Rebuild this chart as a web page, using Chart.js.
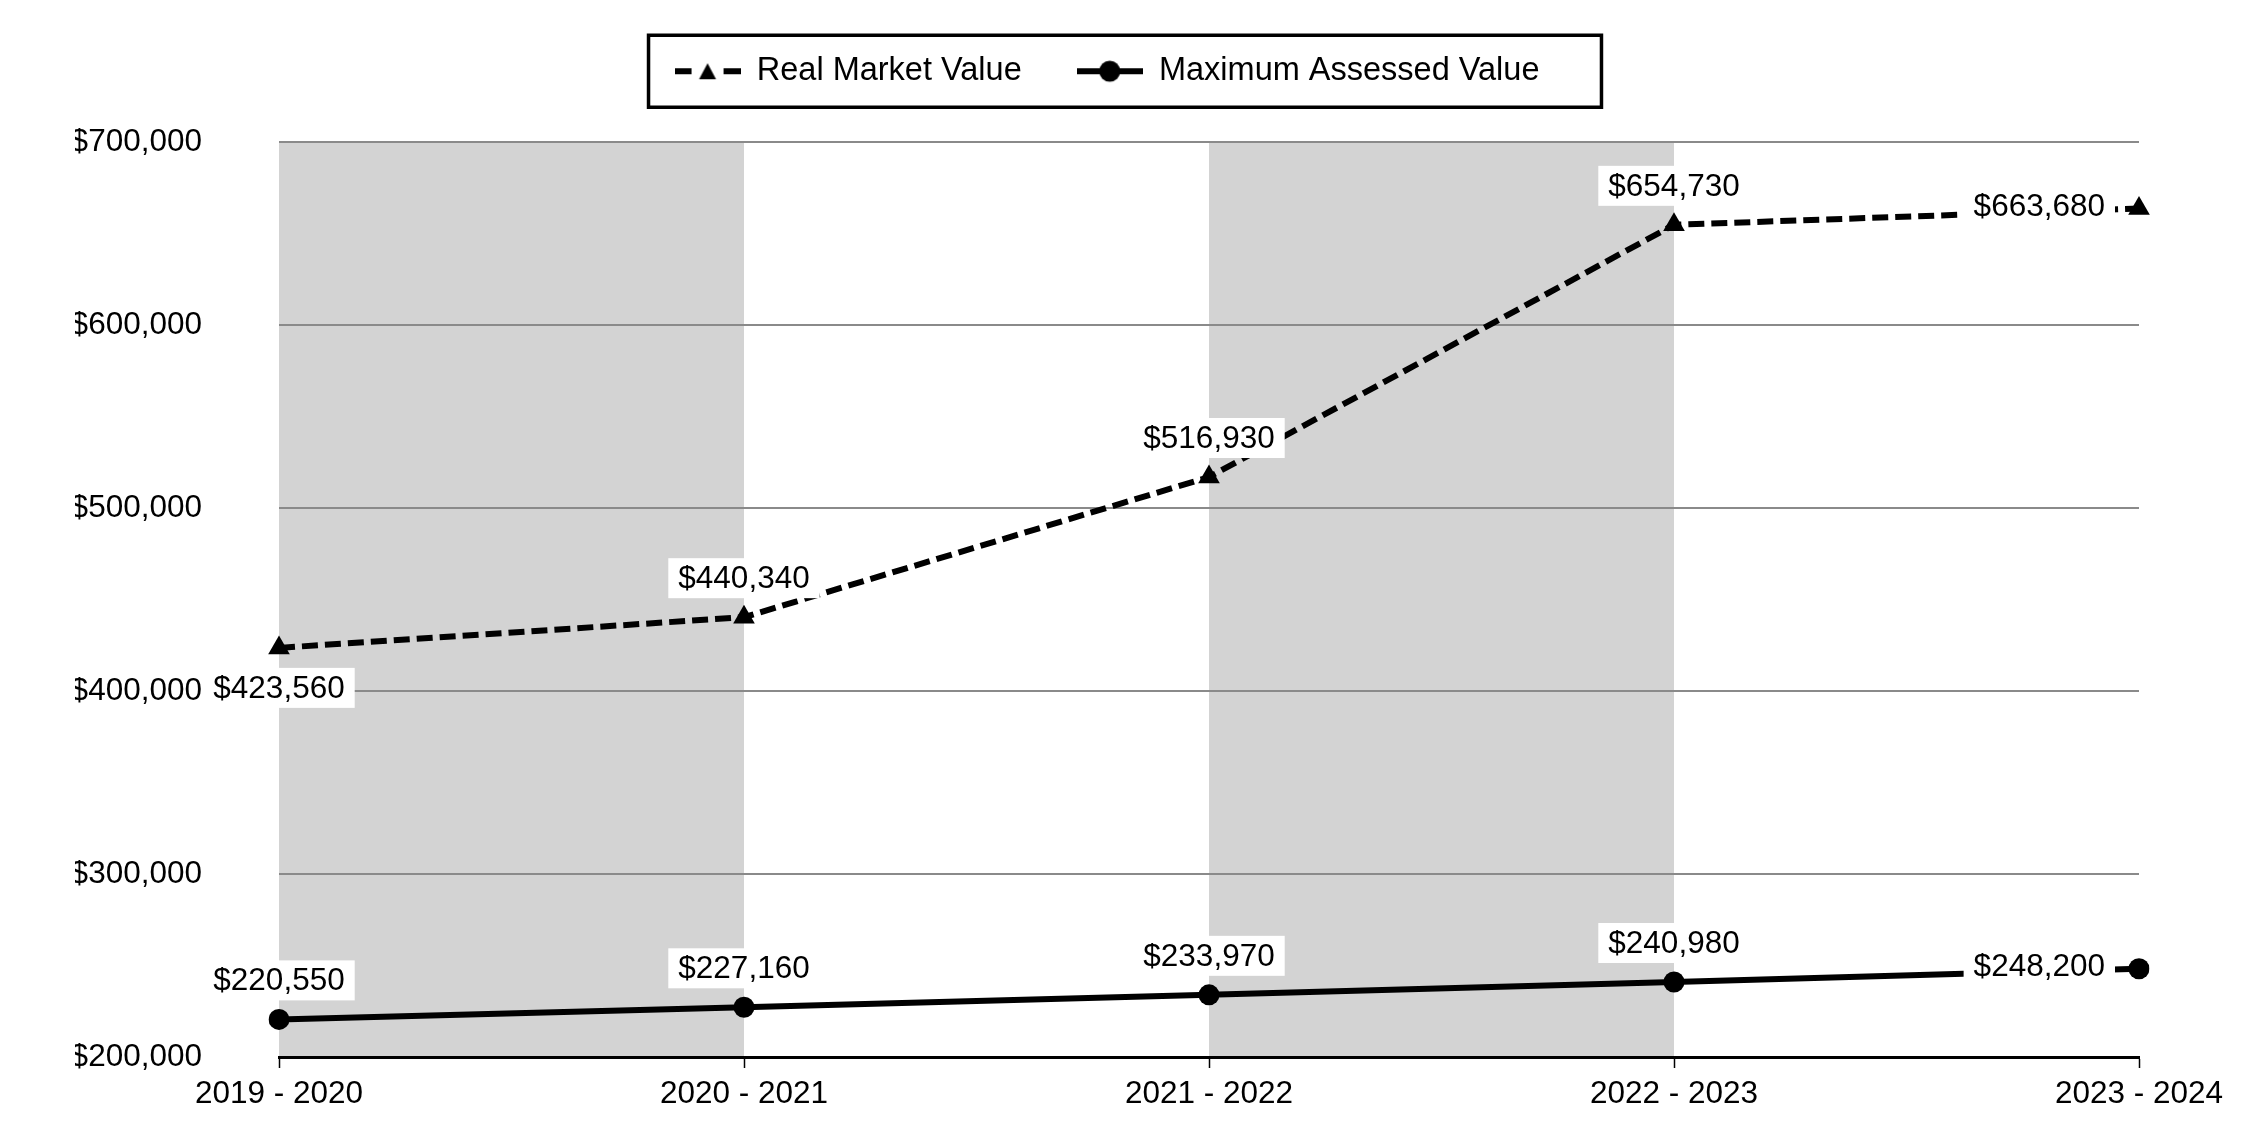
<!DOCTYPE html>
<html>
<head>
<meta charset="utf-8">
<title>Real Market Value vs Maximum Assessed Value</title>
<script src="https://cdn.jsdelivr.net/npm/chart.js@4.4.0/dist/chart.umd.min.js"></script>
<style>
  html, body { margin: 0; padding: 0; background: #fff; }
  canvas { display: block; }
</style>
</head>
<body>
<canvas id="valueChart" width="2250" height="1140"></canvas>
<script>
// Data
const years = ['2019 - 2020', '2020 - 2021', '2021 - 2022', '2022 - 2023', '2023 - 2024'];
const realMarketValue = [423560, 440340, 516930, 654730, 663680];
const maxAssessedValue = [220550, 227160, 233970, 240980, 248200];
const yTicks = [200000, 300000, 400000, 500000, 600000, 700000];
// pairs of category indexes with a grey band between them
const shadedSpans = [[0, 1], [2, 3]];

const FONT = '"Liberation Sans", Arial, sans-serif';
const money = v => '$' + v.toLocaleString('en-US');

Chart.defaults.font.family = FONT;
Chart.defaults.color = '#000';

// little line + marker pictures for the legend
function legendIcon(dashed, marker) {
    const c = document.createElement('canvas');
    c.width = 66;
    c.height = 34;
    const g = c.getContext('2d');
    g.fillStyle = '#000';
    if (dashed) {
        g.fillRect(0, 14, 17, 6);
        g.fillRect(49, 14, 17, 6);
    } else {
        g.fillRect(0, 14, 66, 6);
    }
    g.beginPath();
    if (marker === 'triangle') {
        g.moveTo(33, 9);
        g.lineTo(24.5, 25);
        g.lineTo(41.5, 25);
        g.closePath();
    } else {
        g.arc(33, 17, 10.5, 0, Math.PI * 2);
    }
    g.fill();
    return c;
}

const bandPlugin = {
    id: 'bands',
    beforeDraw(chart) {
        const {ctx, chartArea, scales} = chart;
        ctx.save();
        ctx.fillStyle = '#d3d3d3';
        shadedSpans.forEach(([a, b]) => {
            const x0 = scales.x.getPixelForValue(a);
            const x1 = scales.x.getPixelForValue(b);
            ctx.fillRect(x0, chartArea.top, x1 - x0, chartArea.bottom - chartArea.top);
        });
        ctx.restore();
    }
};

const valueLabels = {
    id: 'valueLabels',
    afterDatasetsDraw(chart) {
        const ctx = chart.ctx;
        ctx.save();
        ctx.font = '31.5px ' + FONT;
        ctx.textBaseline = 'middle';
        ctx.textAlign = 'center';
        chart.data.datasets.forEach((ds, di) => {
            chart.getDatasetMeta(di).data.forEach((pt, i) => {
                const text = money(ds.data[i]);
                const w = ctx.measureText(text).width;
                const side = ds.labelSides[i];
                let cx = pt.x, cy = pt.y;
                if (side === 'above') cy -= 39;
                else if (side === 'below') cy += 40;
                else { cx -= 34 + w / 2; cy -= 2; }
                ctx.fillStyle = '#fff';
                ctx.fillRect(cx - w / 2 - 10, cy - 20, w + 20, 40);
                ctx.fillStyle = '#000';
                ctx.fillText(text, cx, cy + 1);
            });
        });
        ctx.restore();
    }
};

// extra room under the legend and a frame around it
const legendFrame = {
    id: 'legendFrame',
    beforeInit(chart) {
        if (!chart.legend) return;
        const fit = chart.legend.fit;
        chart.legend.fit = function () {
            fit.call(this);
            this.height += 44.5;
        };
    },
    afterDraw(chart) {
        const boxes = chart.legend && chart.legend.legendHitBoxes;
        if (!boxes || !boxes.length) return;
        const first = boxes[0], last = boxes[boxes.length - 1];
        const mid = first.top + first.height / 2;
        const left = first.left - 26;
        const right = last.left + last.width + 62;
        const ctx = chart.ctx;
        ctx.save();
        ctx.strokeStyle = '#000';
        ctx.lineWidth = 3.5;
        ctx.strokeRect(left, mid - 36, right - left, 72);
        ctx.restore();
    }
};

const icons = [legendIcon(true, 'triangle'), legendIcon(false, 'circle')];

new Chart(document.getElementById('valueChart'), {
    type: 'line',
    data: {
        labels: years,
        datasets: [{
            label: 'Real Market Value',
            data: realMarketValue,
            borderColor: '#000',
            backgroundColor: '#000',
            borderWidth: 6,
            borderDash: [16, 7],
            pointStyle: 'triangle',
            pointRadius: 12.5,
            pointBorderWidth: 0,
            tension: 0,
            labelSides: ['below', 'above', 'above', 'above', 'left']
        }, {
            label: 'Maximum Assessed Value',
            data: maxAssessedValue,
            borderColor: '#000',
            backgroundColor: '#000',
            borderWidth: 6,
            pointStyle: 'circle',
            pointRadius: 10.5,
            pointBorderWidth: 0,
            tension: 0,
            labelSides: ['above', 'above', 'above', 'above', 'left']
        }]
    },
    options: {
        responsive: false,
        animation: false,
        devicePixelRatio: 1,
        layout: { padding: { left: 75, right: 111, top: 0, bottom: 0 } },
        scales: {
            x: {
                offset: false,
                grid: {
                    drawOnChartArea: false,
                    drawTicks: true,
                    tickLength: 11,
                    tickColor: '#000',
                    tickWidth: 1.5
                },
                border: { display: true, color: '#000', width: 3 },
                ticks: {
                    font: { size: 31.5 },
                    color: '#000',
                    padding: 7,
                    maxRotation: 0,
                    autoSkip: false
                },
                afterFit(scale) { scale.height = 83; }
            },
            y: {
                min: yTicks[0],
                max: yTicks[yTicks.length - 1],
                afterBuildTicks(scale) {
                    scale.ticks = yTicks.map(v => ({ value: v }));
                },
                // invisible tick marks hold the gap between labels and plot
                grid: {
                    color: '#8a8a8a',
                    lineWidth: 2,
                    drawTicks: true,
                    tickLength: 70,
                    tickColor: 'rgba(0,0,0,0)'
                },
                border: { display: false },
                ticks: {
                    font: { size: 31.5 },
                    color: '#000',
                    padding: 7,
                    callback: v => money(v)
                },
                afterFit(scale) { scale.width = 204; }
            }
        },
        plugins: {
            legend: {
                position: 'top',
                labels: {
                    usePointStyle: true,
                    pointStyleWidth: 66,
                    padding: 55,
                    color: '#000',
                    font: { size: 32.5 },
                    generateLabels: chart => chart.data.datasets.map((ds, i) => ({
                        text: ds.label,
                        pointStyle: icons[i],
                        fillStyle: '#000',
                        strokeStyle: '#000',
                        lineWidth: 0,
                        hidden: false,
                        datasetIndex: i
                    }))
                }
            },
            tooltip: { enabled: false }
        }
    },
    plugins: [bandPlugin, valueLabels, legendFrame]
});
</script>
</body>
</html>
